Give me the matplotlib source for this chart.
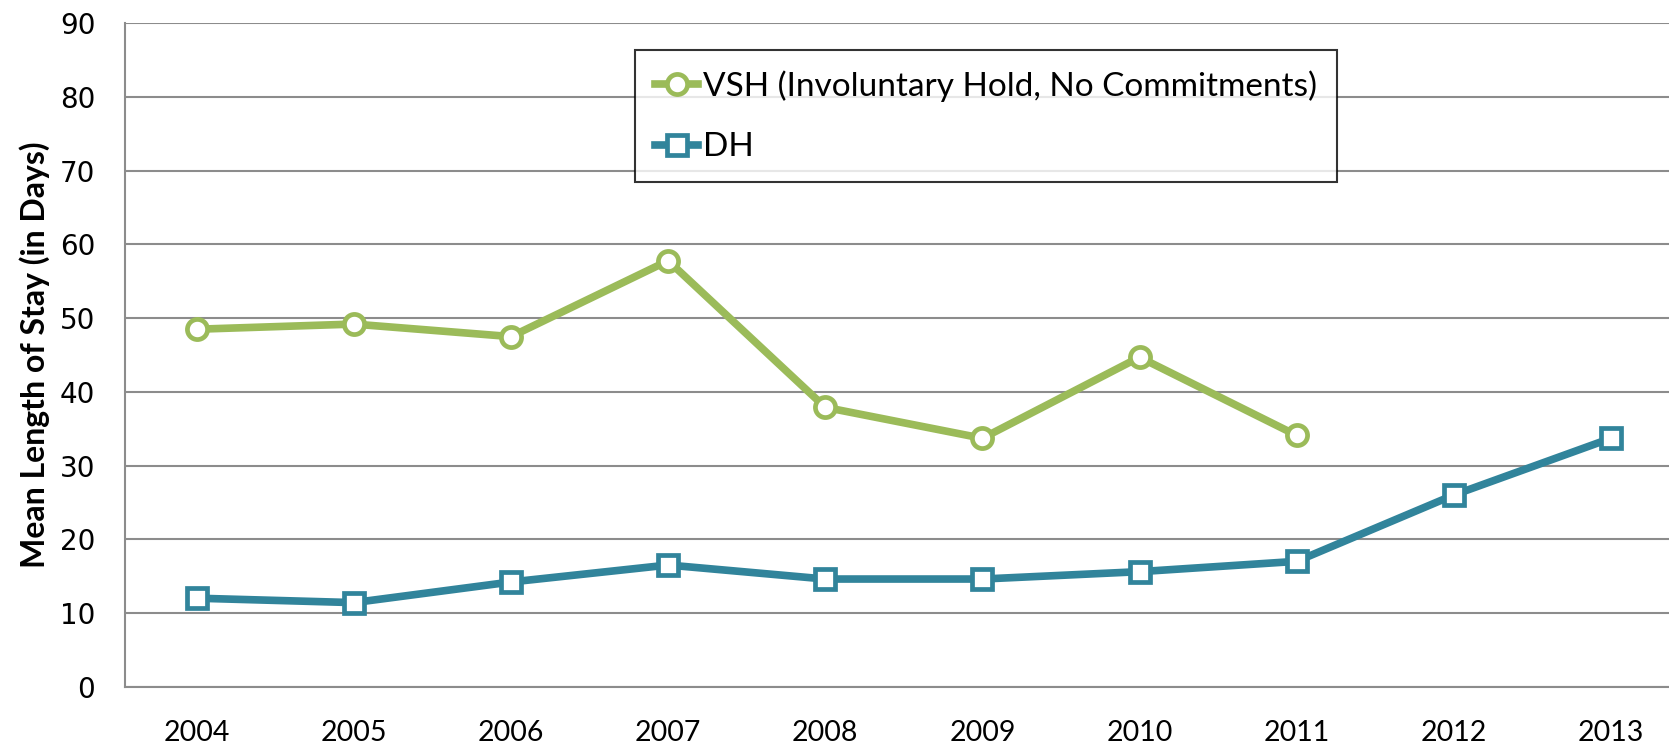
import numpy as np
import matplotlib.pyplot as plt

# Mean length of stay per year
Years = ['2004', '2005', '2006', '2007', '2008', '2009', '2010', '2011', '2012', '2013']
VSH = [48.5, 49.2, 47.5, 57.8, 37.9, 33.7, 44.7, 34.1, np.nan, np.nan]
DH = [12.0, 11.4, 14.2, 16.5, 14.6, 14.6, 15.6, 17.0, 26.0, 33.7]
YTicks = [0, 10, 20, 30, 40, 50, 60, 70, 80, 90]

Green = '#9BBB59'
Teal = '#31849B'

fig = plt.figure(figsize=(16.69, 7.46), dpi=100)
ax = fig.add_axes([0.0746, 0.0796, 0.9254, 0.889])

X = np.arange(len(Years))
ax.plot(X, VSH, color=Green, lw=5.5, marker='o', ms=14.5, mfc='white', mec=Green, mew=3.4,
        label='VSH (Involuntary Hold, No Commitments)')
ax.plot(X, DH, color=Teal, lw=5.5, marker='s', ms=14.5, mfc='white', mec=Teal, mew=3.4,
        label='DH', solid_joinstyle='round')

ax.set_ylim(0, 90)
ax.set_yticks(YTicks)
ax.set_yticklabels([str(v) for v in YTicks], family='DejaVu Sans', fontsize=20)
ax.set_xlim(-0.46, 9.37)
ax.set_xticks(X)
ax.set_xticklabels(Years, family='Lato', fontsize=20.5)
ax.tick_params(axis='x', length=0, pad=24)
ax.tick_params(axis='y', length=0, pad=21)

ax.grid(axis='y', color='#8c8c8c', lw=1.5)
ax.set_axisbelow(True)
for s in ['top', 'right']:
    ax.spines[s].set_visible(False)
for s in ['left', 'bottom']:
    ax.spines[s].set_color('#8c8c8c')
    ax.spines[s].set_linewidth(1.5)

ax.set_ylabel('Mean Length of Stay (in Days)', family='Lato', fontweight='bold', fontsize=23, labelpad=7)

Leg = ax.legend(loc='upper left', bbox_to_anchor=(0.3805, 0.933), bbox_transform=fig.transFigure,
                prop={'family': 'Lato', 'size': 24}, frameon=True, fancybox=False,
                edgecolor='black', handlelength=1.3, handletextpad=0.15, labelspacing=0.92,
                borderpad=0.6, borderaxespad=0, markerscale=1.0)
Leg.get_frame().set_linewidth(1.5)

fig.savefig('out.png', dpi=100)
